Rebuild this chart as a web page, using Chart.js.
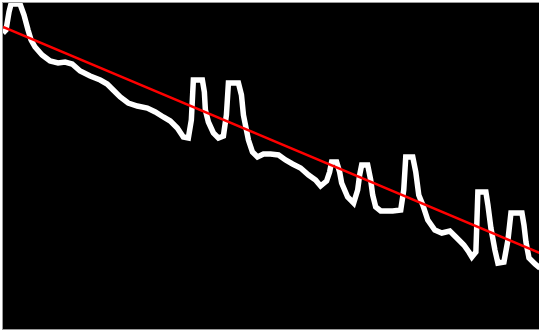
<!DOCTYPE html>
<html>
<head>
<meta charset="utf-8">
<script src="https://cdn.jsdelivr.net/npm/chart.js@4/dist/chart.umd.min.js"></script>
<style>
  html, body { margin:0; padding:0; background:#fff; width:539px; height:331px; overflow:hidden; }
  #frame {
    position:absolute; left:2px; top:2px;
    width:537px; height:326px;
    border-top:1px solid #9a9a9a; border-left:1px solid #9a9a9a; border-bottom:1px solid #9a9a9a;
    background:#000;
  }
  canvas { display:block; }
</style>
</head>
<body>
<div id="frame"><canvas id="c" width="537" height="326"></canvas></div>
<script>
// series (x position, level; level axis runs downwards)
const seriesX = [
  3, 6, 9, 11, 20, 24, 28, 31, 35, 42,
  50, 58, 65, 72, 80, 90, 100, 107, 113, 120,
  128, 137, 147, 155, 163, 170, 177, 183, 188, 191,
  193, 202, 204, 205, 208, 213, 218, 223, 226, 228,
  238, 241, 243, 248, 252, 257, 263, 270, 278, 285,
  292, 300, 308, 315, 320, 326, 329, 331, 336, 339,
  341, 347, 353, 357, 359, 361, 367, 370, 372, 375,
  380, 392, 400, 403, 405, 412, 415, 418, 422, 427,
  434, 441, 449, 456, 463, 468, 471, 475, 477, 485,
  487, 490, 494, 497, 503, 507, 510, 521, 523, 525,
  528, 534, 539
];
const seriesY = [
  33, 30, 12, 4, 4, 15, 30, 40, 47, 55,
  61, 63, 62, 64, 71, 76, 80, 84, 90, 97,
  103, 106, 108, 112, 117, 121, 128, 137, 138, 120,
  80, 80, 92, 110, 122, 133, 138, 136, 115, 83,
  83, 95, 115, 140, 152, 157, 154, 154, 155, 160,
  164, 168, 175, 180, 186, 181, 172, 162, 162, 172,
  183, 197, 203, 190, 175, 165, 165, 180, 195, 207,
  211, 211, 210, 190, 157, 157, 172, 195, 205, 220,
  230, 233, 231, 238, 245, 252, 257, 252, 192, 192,
  205, 228, 250, 263, 262, 240, 213, 213, 225, 242,
  258, 264, 268
];
// straight trend line end points
const trendX = [3, 539];
const trendY = [27, 253];

const seriesPts = seriesX.map((x, i) => ({x: x, y: seriesY[i]}));
const trendPts = trendX.map((x, i) => ({x: x, y: trendY[i]}));

const bg = {
  id: 'bg',
  beforeDraw(chart) {
    const ctx = chart.ctx;
    ctx.save();
    ctx.fillStyle = '#000';
    ctx.fillRect(0, 0, chart.width, chart.height);
    ctx.restore();
  }
};

new Chart(document.getElementById('c').getContext('2d'), {
  type: 'line',
  data: {
    datasets: [
      {data: trendPts, borderColor: '#ff0000', borderWidth: 2.5, pointRadius: 0, tension: 0, fill: false},
      {data: seriesPts, borderColor: '#ffffff', borderWidth: 5.5, pointRadius: 0, tension: 0, fill: false}
    ]
  },
  options: {
    responsive: false,
    devicePixelRatio: 1,
    animation: false,
    layout: {padding: 0},
    plugins: {legend: {display: false}, tooltip: {enabled: false}},
    scales: {
      x: {type: 'linear', min: 3, max: 539, display: false},
      y: {type: 'linear', min: 3, max: 329, reverse: true, display: false}
    }
  },
  plugins: [bg]
});
</script>
</body>
</html>
